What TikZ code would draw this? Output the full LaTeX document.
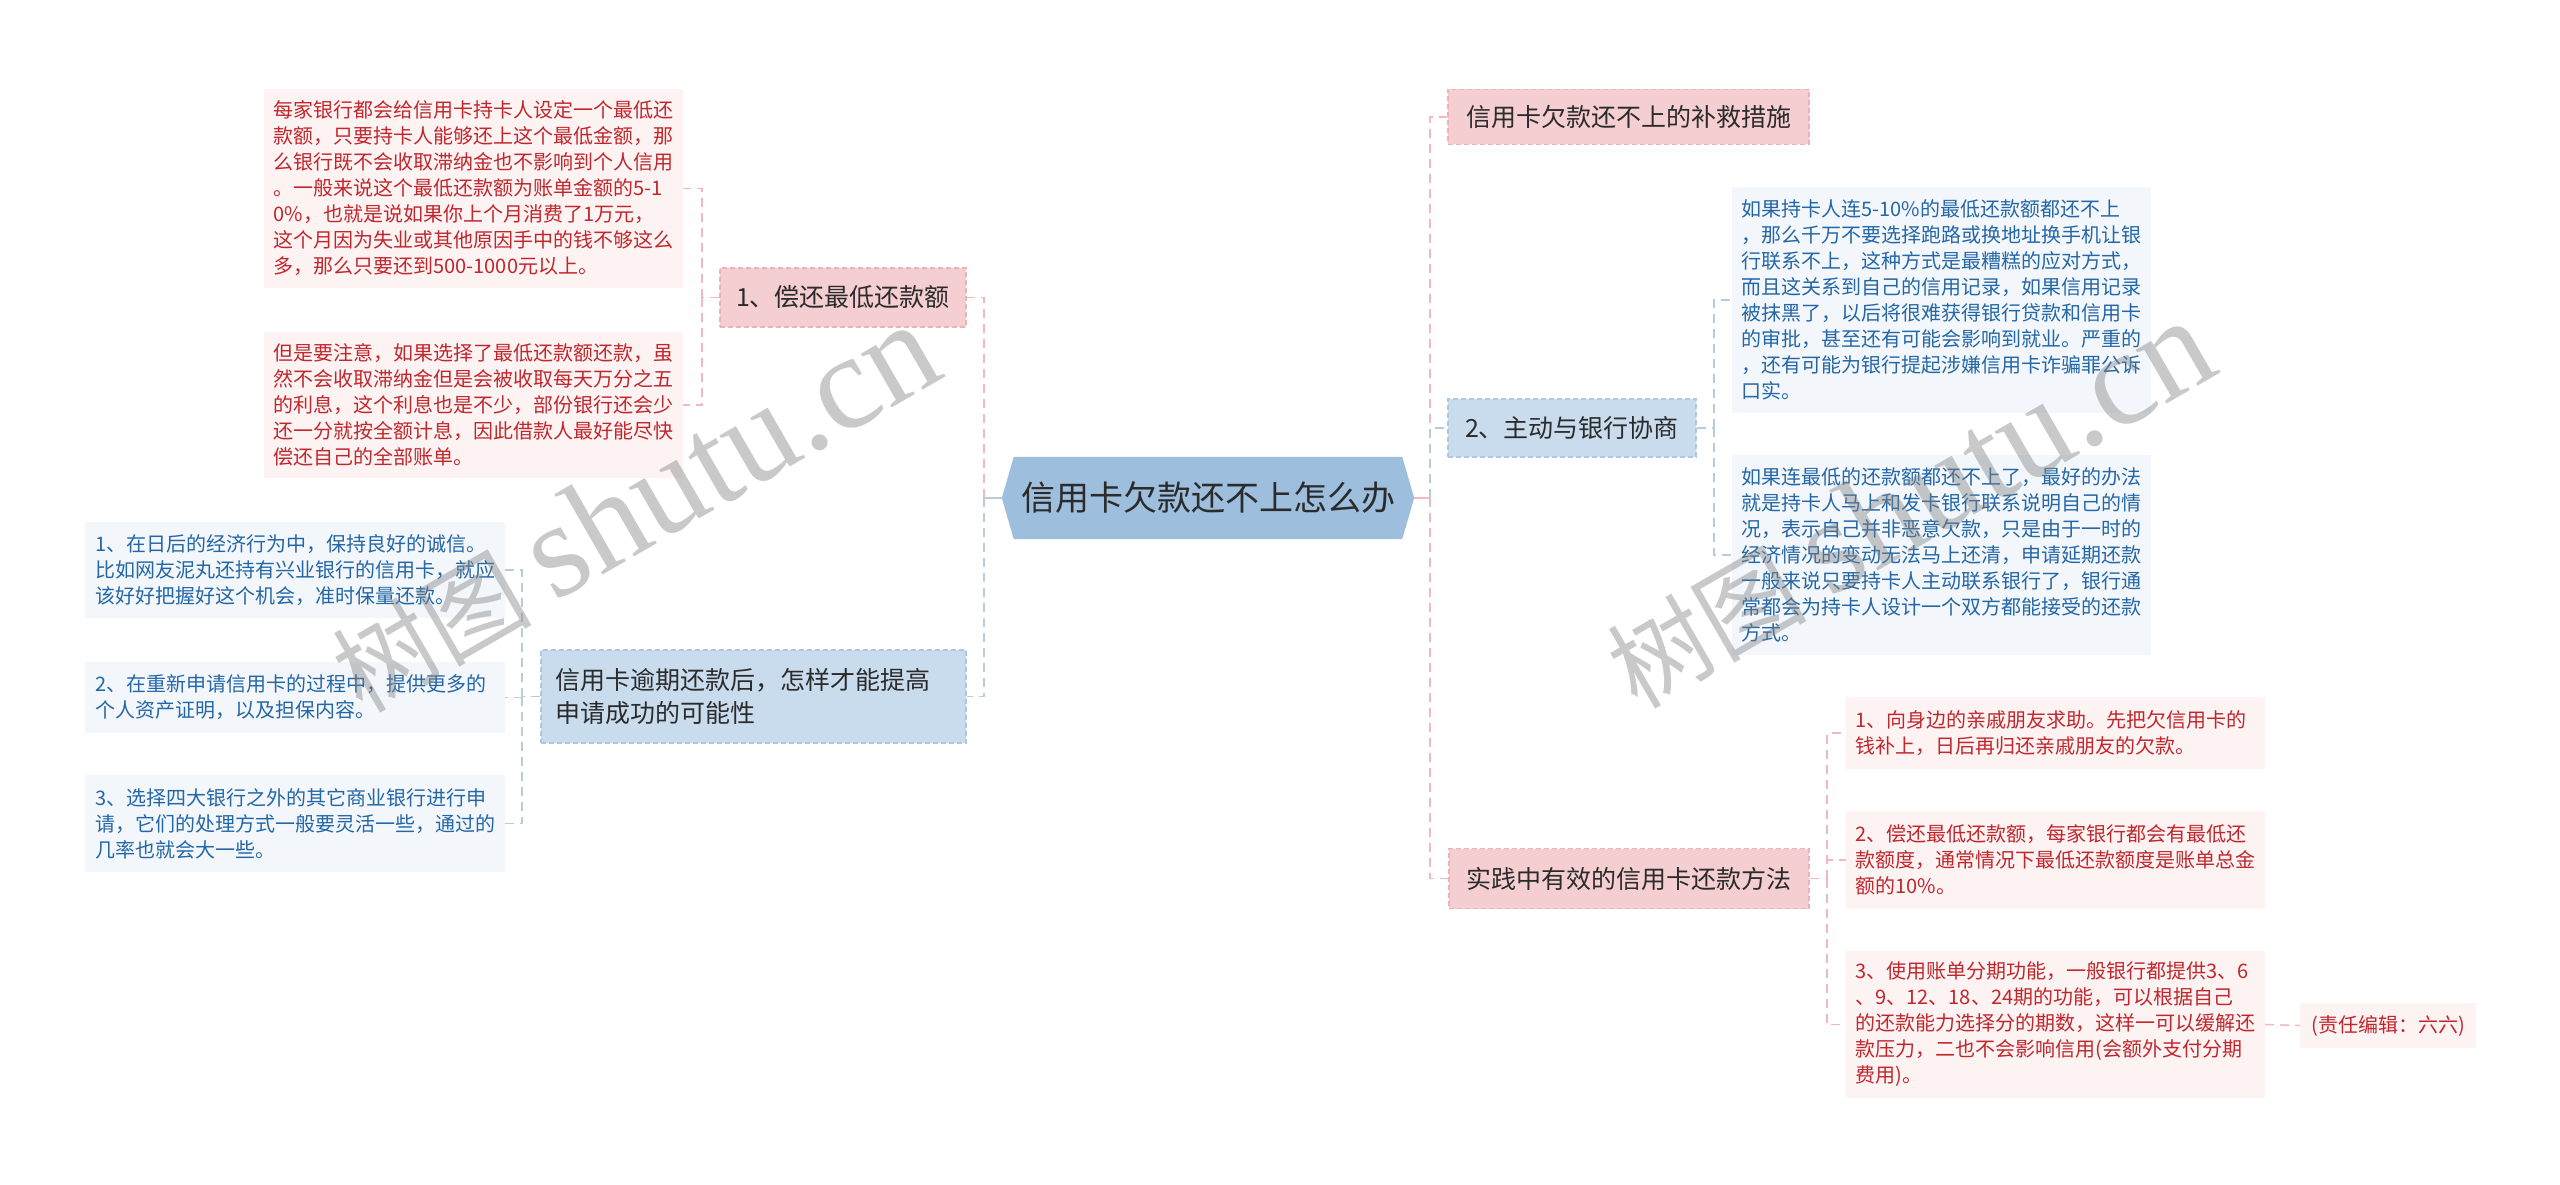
\documentclass[tikz,border=0pt]{standalone}
\usepackage{fontspec}
\setmainfont{Noto Sans CJK SC}
\newfontfamily\wmserif{Liberation Serif}
\usetikzlibrary{backgrounds}
\definecolor{pinkbox}{HTML}{F5CED1}
\definecolor{pinkedge}{HTML}{EAB3B8}
\definecolor{bluebox}{HTML}{C9DCEE}
\definecolor{blueedge}{HTML}{AFC7DF}
\definecolor{rootfill}{HTML}{9DBEDC}
\definecolor{leafpinkbg}{HTML}{FDF3F3}
\definecolor{leafbluebg}{HTML}{F3F7FC}
\definecolor{redtext}{HTML}{C0272D}
\definecolor{bluetext}{HTML}{2467A6}
\definecolor{pinkline}{HTML}{F0B9BD}
\definecolor{blueline}{HTML}{B8CCE0}
\definecolor{darktext}{HTML}{2B2B2B}
\tikzset{
  mbox/.style={draw, line width=1.2pt, dash pattern=on 5pt off 3pt, inner sep=0pt,
    text=darktext, font=\fontsize{25}{33}\selectfont, align=left},
  mpink/.style={mbox, fill=pinkbox, draw=pinkedge},
  mblue/.style={mbox, fill=bluebox, draw=blueedge},
  leafbox/.style={inner xsep=9.5pt, inner ysep=0pt, text width=400pt,
    font=\fontsize{20}{26}\selectfont, align=left, minimum width=419pt},
  lpink/.style={leafbox, fill=leafpinkbg, text=redtext},
  lblue/.style={leafbox, fill=leafbluebg, text=bluetext},
  conn/.style={line width=1.5pt, dash pattern=on 9pt off 6pt},
  cpink/.style={conn, draw=pinkline},
  cblue/.style={conn, draw=blueline},
  wmark/.style={text=gray, text opacity=0.42, inner sep=0pt, rotate=30, anchor=base east,
    font=\fontsize{100}{110}\selectfont}
}
\begin{document}
\begin{tikzpicture}[x=1pt,y=-1pt]
\useasboundingbox (0,0) rectangle (2560,1185);

% root
\node[minimum width=412pt, minimum height=82pt, inner sep=0pt, text=darktext,
  font=\fontsize{34}{40}\selectfont] (root) at (1208,498) {信用卡欠款还不上怎么办};
\begin{scope}[on background layer]
\fill[white] (0,0) rectangle (2560,1185);
\fill[rootfill] (root.west) -- ([xshift=12pt]root.north west) -- ([xshift=-12pt]root.north east)
  -- (root.east) -- ([xshift=-12pt]root.south east) -- ([xshift=12pt]root.south west) -- cycle;
\end{scope}

% right main branches
\node[mpink, minimum width=361pt, minimum height=55pt] (R1) at (1628.5,117) {信用卡欠款还不上的补救措施};
\node[mblue, minimum width=248pt, minimum height=58pt] (R2) at (1572,428) {2、主动与银行协商};
\node[mpink, minimum width=360pt, minimum height=60pt] (R3) at (1629,878.5) {实践中有效的信用卡还款方法};

% left main branches
\node[mpink, minimum width=246pt, minimum height=59pt] (Lp) at (843,297.5) {1、偿还最低还款额};
\node[mblue, minimum width=425pt, minimum height=93pt, inner xsep=14pt, text width=397pt] (Lb) at (753.5,696.5)
  {信用卡逾期还款后，怎样才能提高\\申请成功的可能性};

% leaves of Lp
\node[lpink, minimum height=199pt] (L1) at (473.5,188.5) {每家银行都会给信用卡持卡人设定一个最低还\\款额，只要持卡人能够还上这个最低金额，那\\么银行既不会收取滞纳金也不影响到个人信用\\。一般来说这个最低还款额为账单金额的5-1\\0\%，也就是说如果你上个月消费了1万元，\\这个月因为失业或其他原因手中的钱不够这么\\多，那么只要还到500-1000元以上。};
\node[lpink, minimum height=146pt] (L2) at (473.5,405) {但是要注意，如果选择了最低还款额还款，虽\\然不会收取滞纳金但是会被收取每天万分之五\\的利息，这个利息也是不少，部份银行还会少\\还一分就按全额计息，因此借款人最好能尽快\\偿还自己的全部账单。};

% leaves of Lb
\node[lblue, minimum width=420pt, minimum height=96pt] (B1) at (295,570) {1、在日后的经济行为中，保持良好的诚信。\\比如网友泥丸还持有兴业银行的信用卡，就应\\该好好把握好这个机会，准时保量还款。};
\node[lblue, minimum width=420pt, minimum height=71pt] (B2) at (295,697.5) {2、在重新申请信用卡的过程中，提供更多的\\个人资产证明，以及担保内容。};
\node[lblue, minimum width=420pt, minimum height=97pt] (B3) at (295,823.5) {3、选择四大银行之外的其它商业银行进行申\\请，它们的处理方式一般要灵活一些，通过的\\几率也就会大一些。};

% leaves of R2
\node[lblue, minimum height=226pt] (A1) at (1941.5,300) {如果持卡人连5-10\%的最低还款额都还不上\\，那么千万不要选择跑路或换地址换手机让银\\行联系不上，这种方式是最糟糕的应对方式，\\而且这关系到自己的信用记录，如果信用记录\\被抹黑了，以后将很难获得银行贷款和信用卡\\的审批，甚至还有可能会影响到就业。严重的\\，还有可能为银行提起涉嫌信用卡诈骗罪公诉\\口实。};
\node[lblue, minimum height=200pt] (A2) at (1941.5,555) {如果连最低的还款额都还不上了，最好的办法\\就是持卡人马上和发卡银行联系说明自己的情\\况，表示自己并非恶意欠款，只是由于一时的\\经济情况的变动无法马上还清，申请延期还款\\一般来说只要持卡人主动联系银行了，银行通\\常都会为持卡人设计一个双方都能接受的还款\\方式。};

% leaves of R3
\node[lpink, minimum height=72pt] (C1) at (2055.5,733) {1、向身边的亲戚朋友求助。先把欠信用卡的\\钱补上，日后再归还亲戚朋友的欠款。};
\node[lpink, minimum height=98pt] (C2) at (2055.5,860) {2、偿还最低还款额，每家银行都会有最低还\\款额度，通常情况下最低还款额度是账单总金\\额的10\%。};
\node[lpink, minimum height=147pt] (C3) at (2055.5,1024.5) {3、使用账单分期功能，一般银行都提供3、6\\、9、12、18、24期的功能，可以根据自己\\的还款能力选择分的期数，这样一可以缓解还\\款压力，二也不会影响信用(会额外支付分期\\费用)。};
\node[fill=leafpinkbg, text=redtext, font=\fontsize{20}{26}\selectfont, inner sep=0pt,
  minimum width=176pt, minimum height=45pt] (C4) at (2388,1025.5) {(责任编辑：六六)};

% junction coordinates
\coordinate (tR) at (1430,498);
\coordinate (tL) at (984,498);
\coordinate (jR2) at (1714,428);
\coordinate (jR3) at (1827,878.5);
\coordinate (jLp) at (702,297.5);
\coordinate (jLb) at (522,696.5);

% connectors
\draw[pinkline, line width=1.5pt] (root.east) -- (tR);
\draw[blueline, line width=1.5pt] (root.west) -- (tL);
\draw[cpink] (tR) |- (R1.west);
\draw[cpink] (tR) |- (R3.west);
\draw[cblue] (tR) |- (R2.west);
\draw[cpink] (tL) |- (Lp.east);
\draw[cblue] (tL) |- (Lb.east);

\draw[cblue] (R2.east) -- (jR2);
\draw[cblue] (jR2) |- (A1.west);
\draw[cblue] (jR2) |- (A2.west);

\draw[cpink] (R3.east) -- (jR3);
\draw[cpink] (jR3) |- (C1.west);
\draw[cpink] (jR3) |- (C2.west);
\draw[cpink] (jR3) |- (C3.west);
\draw[cpink] (C3.east) -- (C4.west);

\draw[cpink] (Lp.west) -- (jLp);
\draw[cpink] (jLp) |- (L1.east);
\draw[cpink] (jLp) |- (L2.east);

\draw[cblue] (Lb.west) -- (jLb);
\draw[cblue] (jLb) |- (B1.east);
\draw[cblue] (jLb) |- (B2.east);
\draw[cblue] (jLb) |- (B3.east);

% watermarks
\node[wmark] (wm1) at (948,376) {树图 {\wmserif\fontsize{135}{140}\selectfont shutu.cn}};
\node[wmark] (wm2) at (2223,372) {树图 {\wmserif\fontsize{135}{140}\selectfont shutu.cn}};
\end{tikzpicture}
\end{document}
